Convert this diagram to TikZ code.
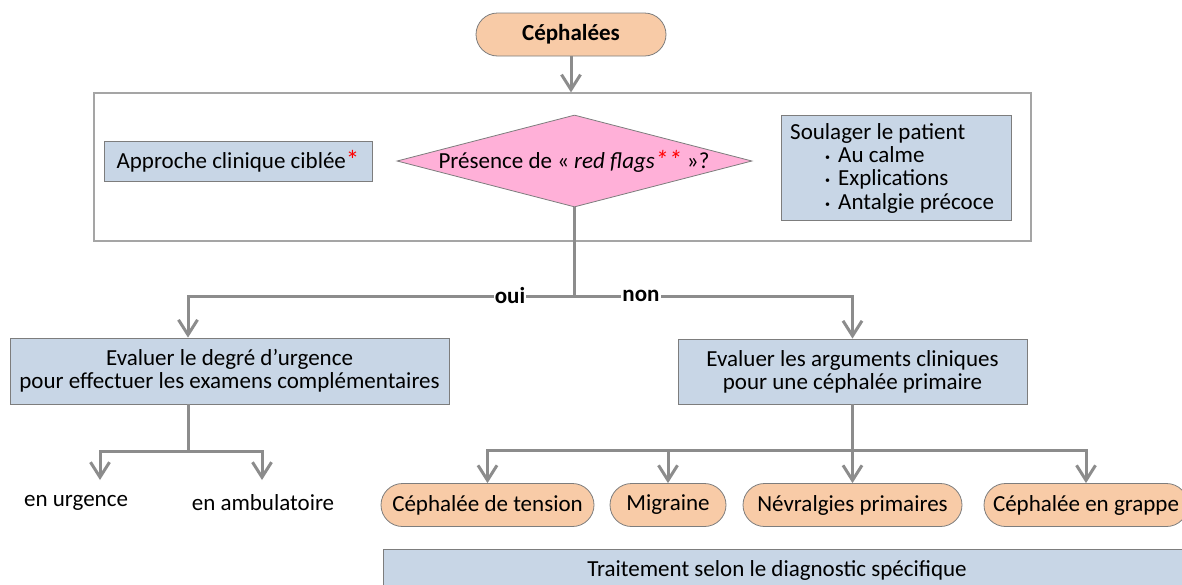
\documentclass[tikz,border=0pt]{standalone}
\usepackage{fontspec}
\setmainfont{Carlito}
\usetikzlibrary{shapes.geometric,arrows.meta}
\definecolor{peach}{RGB}{248,203,167}
\definecolor{bluegray}{RGB}{200,214,230}
\definecolor{pinkd}{RGB}{255,176,216}
\definecolor{linegray}{RGB}{140,140,140}
\definecolor{bordergray}{RGB}{125,125,125}
\definecolor{framegray}{RGB}{165,165,165}
\begin{document}
\begin{tikzpicture}[x=1pt,y=-1pt,
  txt/.style={font=\fontsize{23}{23}\selectfont},
  btxt/.style={font=\fontsize{23}{23}\selectfont\bfseries},
  bbox/.style={draw=bordergray, line width=0.8pt, fill=bluegray, inner sep=0pt, txt, align=center},
  pill/.style={draw=bordergray, line width=0.8pt, fill=peach, rounded corners=21.5pt, inner sep=0pt, minimum height=43pt, txt},
  conn/.style={draw=linegray, line width=3pt},
  arr/.style={conn, -{Straight Barb[length=15pt,width=19pt]}},
  lab/.style={btxt, fill=white, inner sep=1pt}]
\useasboundingbox (0,0) rectangle (1182,584);
\clip (0,0) rectangle (1182,584);
% top
\node[pill, minimum width=190pt, btxt] (ceph) at (571,34.5) {Céphalées};
\node[draw=framegray, line width=1.2pt, minimum width=937pt, minimum height=148pt, inner sep=0pt] (frame) at (562.5,167) {};
\node[bbox, minimum width=268pt, minimum height=40pt] (appr) at (238,161) {Approche clinique ciblée\textcolor{red}{\fontsize{27}{23}\selectfont\raisebox{-1pt}{*}}};
\node[diamond, draw=bordergray, line width=0.8pt, fill=pinkd, minimum width=355pt, minimum height=92pt, inner sep=0pt] (dia) at (574.5,161) {};
\node[txt, inner sep=0pt] (diatxt) at (574,161) {Présence de « \textit{red flags\textcolor{red}{\fontsize{27}{23}\selectfont\raisebox{-1pt}{**}}} »?};
\node[bbox, minimum width=230pt, minimum height=105pt] (soul) at (896,167.5) {};
\node[anchor=north west, align=left, inner sep=0pt, font=\fontsize{23}{23.3}\selectfont] (soultxt) at (790,123)
  {Soulager le patient\\
   \hspace*{35pt}\makebox[13pt][l]{\fontsize{10}{10}\selectfont\raisebox{2pt}{•}}Au calme\\
   \hspace*{35pt}\makebox[13pt][l]{\fontsize{10}{10}\selectfont\raisebox{2pt}{•}}Explications\\
   \hspace*{35pt}\makebox[13pt][l]{\fontsize{10}{10}\selectfont\raisebox{2pt}{•}}Antalgie précoce};
% middle
\node[bbox, minimum width=439pt, minimum height=66pt] (left) at (229.5,371) {Evaluer le degré d’urgence\\pour effectuer les examens complémentaires};
\node[bbox, minimum width=349pt, minimum height=65pt] (right) at (852.5,371.5) {Evaluer les arguments cliniques\\pour une céphalée primaire};
% bottom left
\node[txt] (urg) at (76,503) {en urgence};
\node[txt] (amb) at (263,503) {en ambulatoire};
% bottom right
\node[pill, minimum width=213pt] (tension) at (487.5,505) {Céphalée de tension};
\node[pill, minimum width=116pt] (migraine) at (668,505) {Migraine};
\node[pill, minimum width=219pt] (nevr) at (852.5,505) {Névralgies primaires};
\node[pill, minimum width=204pt] (grappe) at (1086,505) {Céphalée en grappe};
\node[draw=bordergray, line width=0.8pt, fill=bluegray, minimum width=820pt, minimum height=60pt, inner sep=0pt, anchor=north west] (trait) at (383,549) {};
\node[txt] (traittxt) at (777,570) {Traitement selon le diagnostic spécifique};
% connectors
\draw[arr] (ceph.south) -- (ceph.south |- frame.north);
\coordinate (split) at (574.5,296);
\coordinate (lturn) at (188,296);
\draw[conn] (dia.south) -- (split);
\draw[arr] (split) -- (lturn) -- (lturn |- left.north);
\draw[arr] (split) -| (right.north);
\node[lab] (oui) at (510,296) {oui};
\node[lab] (non) at (641,296) {non};
\coordinate (lstem) at (188,451);
\coordinate (lu) at (100,451);
\coordinate (la) at (262,451);
\coordinate (lue) at (100,480);
\coordinate (lae) at (262,480);
\draw[conn] (lstem |- left.south) -- (lstem);
\draw[arr] (lstem) -- (lu) -- (lue);
\draw[arr] (lstem) -- (la) -- (lae);
\coordinate (rstem) at (852.5,450);
\draw[conn] (right.south) -- (rstem);
\draw[arr] (rstem) -| (tension.north);
\draw[arr] (rstem) -| (migraine.north);
\draw[arr] (rstem) -- (nevr.north);
\draw[arr] (rstem) -| (grappe.north);
\end{tikzpicture}
\end{document}
